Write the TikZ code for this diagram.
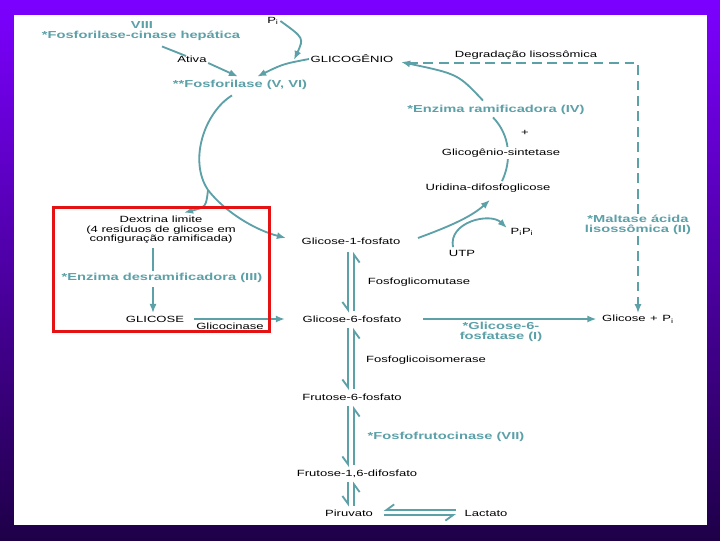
\documentclass[tikz,border=0pt]{standalone}
\usepackage{fontspec}
\setmainfont{Liberation Sans}
\newfontfamily\figfont[FakeStretch=1.45]{Liberation Sans}
\usepackage{tikz}
\usetikzlibrary{arrows.meta, calc}

\definecolor{enzteal}{RGB}{92,160,168}
\definecolor{boxred}{RGB}{228,18,18}
\definecolor{slidetop}{RGB}{124,0,255}
\definecolor{slidebottom}{RGB}{30,0,72}

\tikzset{
  metab/.style={font=\figfont\fontsize{6.4}{6.7}\selectfont, inner sep=1pt, align=center},
  enzyme/.style={font=\figfont\bfseries\fontsize{7.2}{7.3}\selectfont, text=enzteal, inner sep=1pt, align=center},
  path line/.style={enzteal, line width=1.3pt},
  path arrow/.style={path line, -{Latex[length=6.5pt, width=5pt]}},
  half arrow/.style={path line, -{Straight Barb[right, length=5.5pt, width=8pt]}},
  lyso line/.style={path line, dash pattern=on 7pt off 4pt}
}

\begin{document}
\begin{tikzpicture}[x=0.025cm, y=-0.025cm]
    % Slide background
    \useasboundingbox (0,0) rectangle (720,540);
    \shade[top color=slidetop, bottom color=slidebottom] (0,0) rectangle (720,540);
    \fill[white] (14,15) rectangle (707,525);

    % Glycogen breakdown
    \node[enzyme] (viii) at (142,25) {VIII};
    \node[enzyme] (cinase) at (141,36) {*Fosforilase-cinase hepática};
    \node[metab] (ativa) at (192,59) {Ativa};
    \node[enzyme] (fosforilase) at (240,85) {**Fosforilase (V, VI)};
    \node[metab] (pi) at (273,21) {P\textsubscript{i}};
    \node[metab] (glicogenio) at (352,59) {GLICOGÊNIO};
    \node[metab] (degradacao) at (526,55) {Degradação lisossômica};

    \draw[path line] ($(cinase.south)+(21,4)$) -- ($(ativa.north)+(-6,2)$);
    \draw[path arrow] ($(ativa.south east)+(0,-1)$) -- ($(fosforilase.north)+(-2,-2)$);
    \draw[path arrow] (pi.east) .. controls (304,38) .. ($(glicogenio.west)+(-15,1)$);
    \draw[path arrow] (glicogenio.west) .. controls (283,64) .. ($(fosforilase.north)+(17,-2)$);

    % Debranching
    \node[metab] (dextrina) at (161,230) {Dextrina limite\\(4 resíduos de glicose em\\configuração ramificada)};
    \node[enzyme] (desramif) at (162,278) {*Enzima desramificadora (III)};
    \node[metab] (glicose) at (155,319) {GLICOSE};
    \node[metab] (glicocinase) at (230,326) {Glicocinase};

    % Central pathway
    \node[metab] (g1p) at (351,241) {Glicose-1-fosfato};
    \node[metab] (g6p) at (352,319) {Glicose-6-fosfato};
    \node[metab] (f6p) at (352,397) {Frutose-6-fosfato};
    \node[metab] (f16bp) at (357,474) {Frutose-1,6-difosfato};
    \node[metab] (piruvato) at (349,513) {Piruvato};
    \node[metab] (lactato) at (486,513) {Lactato};
    \node[metab] (mutase) at (419,282) {Fosfoglicomutase};
    \node[metab] (isomerase) at (426,360) {Fosfoglicoisomerase};
    \node[enzyme] (pfk) at (446,437) {*Fosfofrutocinase (VII)};

    % Phosphorylase splits into two branches
    \coordinate (split) at (208,190);
    \draw[path line] ($(fosforilase.south)+(-8,4)$) .. controls (205,112) and (188,160) .. (split);
    \draw[path arrow] (split) .. controls (206,207) .. ($(dextrina.north)+(23,-2)$);
    \draw[path arrow] (split) .. controls (225,212) and (255,230) .. ($(g1p.west)+(-14,-3)$);

    \draw[path line] ($(dextrina.south)+(-8,3)$) -- ($(desramif.north)+(-9,-1)$);
    \draw[path arrow] ($(desramif.south)+(-9,3)$) -- ($(glicose.north)+(-2,-1)$);
    \draw[path arrow] ($(glicose.east)+(8,0)$) -- ($(g6p.west)+(-16,0)$);
    \draw[boxred, line width=2.5pt] (53.5,207.5) rectangle (269.5,331.5);

    % Equilibria down the column
    \draw[half arrow] ($(g1p.south)+(-3,6)$) -- ($(g1p.south |- g6p.north)+(-3,-1.5)$);
    \draw[half arrow] ($(g1p.south |- g6p.north)+(3,-3)$) -- ($(g1p.south)+(3,6)$);
    \draw[half arrow] ($(g6p.south -| g1p)+(-3,4)$) -- ($(f6p.north -| g1p)+(-3,-2)$);
    \draw[half arrow] ($(f6p.north -| g1p)+(3,-3)$) -- ($(g6p.south -| g1p)+(3,4)$);
    \draw[half arrow] ($(f6p.south -| g1p)+(-3,4)$) -- ($(f16bp.north -| g1p)+(-3,-1.5)$);
    \draw[half arrow] ($(f16bp.north -| g1p)+(3,-3)$) -- ($(f6p.south -| g1p)+(3,4)$);
    \draw[half arrow] ($(f16bp.south -| g1p)+(-3,2)$) -- ($(piruvato.north -| g1p)+(-3,-1.5)$);
    \draw[half arrow] ($(piruvato.north -| g1p)+(3,-2.5)$) -- ($(f16bp.south -| g1p)+(3,2)$);
    \draw[half arrow] ($(lactato.west)+(-7,-3)$) -- ($(piruvato.east)+(9,-3)$);
    \draw[half arrow] ($(piruvato.east)+(9,2)$) -- ($(lactato.west)+(-7,2)$);

    % Glucose-6-phosphatase
    \node[enzyme] (g6pase) at (501,332) {*Glicose-6-\\fosfatase (I)};
    \node[metab] (glicosepi) at (638,319) {Glicose\enspace+\enspace P\textsubscript{i}};
    \draw[path arrow] ($(g6p.east)+(20,0)$) -- ($(glicosepi.west)+(-4,0)$);

    % Glycogen synthesis
    \node[enzyme] (ramif) at (496,110) {*Enzima ramificadora (IV)};
    \node[metab] (mais) at (525,133) {+};
    \node[metab] (udpg) at (488,188) {Uridina-difosfoglicose};
    \node[metab] (pipi) at (522,232) {P\textsubscript{i}P\textsubscript{i}};
    \node[metab] (utp) at (462,253) {UTP};

    \draw[path arrow] ($(g1p.east)+(16,-3)$) .. controls (445,228) and (470,218) .. ($(udpg.south)+(2,6)$);
    \draw[path arrow] ($(utp.north)+(-9,-1)$) .. controls (448,222) and (490,212) .. ($(pipi.west)+(-2,-4)$);
    \draw[path line] ($(udpg.north)+(14,-1)$) .. controls (512,160) and (510,135) .. ($(ramif.south)+(-3,1)$);
    \node[metab, fill=white] (sintetase) at (501,153) {Glicogênio-sintetase};
    \draw[path arrow] ($(ramif.north)+(-13,-3)$) .. controls (458,74) .. ($(glicogenio.east)+(6,3)$);

    % Lysosomal route
    \draw[lyso line, -{Latex[length=6.5pt, width=5pt]}] ($(glicogenio.east)+(13,4)$) -| (glicosepi.north);
    \node[enzyme, fill=white] (maltase) at (638,225) {*Maltase ácida\\lisossômica (II)};
\end{tikzpicture}
\end{document}
